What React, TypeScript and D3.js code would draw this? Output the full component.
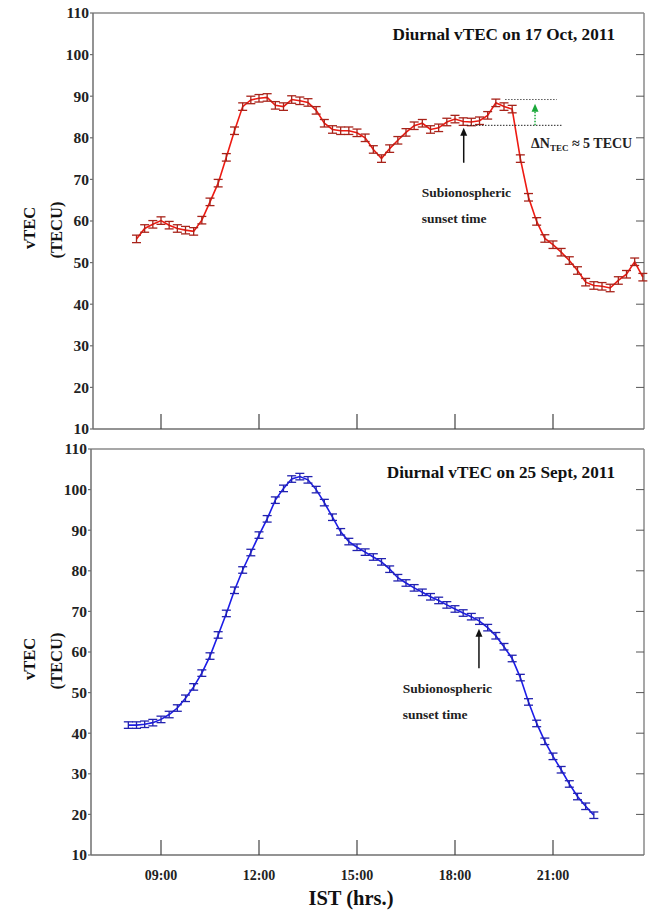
import React from "react";
import * as d3 from "d3";

// ---------- data ----------
const redTimes = ["08:15","08:30","08:45","09:00","09:15","09:30","09:45","10:00","10:15","10:30","10:45","11:00","11:15","11:30","11:45","12:00","12:15","12:30","12:45","13:00","13:15","13:30","13:45","14:00","14:15","14:30","14:45","15:00","15:15","15:30","15:45","16:00","16:15","16:30","16:45","17:00","17:15","17:30","17:45","18:00","18:15","18:30","18:45","19:00","19:15","19:30","19:45","20:00","20:15","20:30","20:45","21:00","21:15","21:30","21:45","22:00","22:15","22:30","22:45","23:00","23:15","23:30","23:45"];
const redValues = [55.7,58.2,59.2,60.1,59.0,58.2,57.8,57.5,60.2,64.6,69.1,75.3,81.7,87.5,89.1,89.5,89.7,87.8,87.5,89.2,88.9,88.5,86.6,83.5,82.0,81.7,81.7,81.2,80.0,77.2,75.0,77.4,79.4,81.3,82.9,83.5,82.0,82.4,83.8,84.5,83.9,83.8,84.1,85.4,88.4,87.5,86.9,75.0,65.7,59.9,55.8,54.3,52.5,50.5,48.1,45.3,44.5,44.3,43.9,45.7,47.2,50.2,46.5];
const redError = 0.9;

const blueTimes = ["08:00","08:15","08:30","08:45","09:00","09:15","09:30","09:45","10:00","10:15","10:30","10:45","11:00","11:15","11:30","11:45","12:00","12:15","12:30","12:45","13:00","13:15","13:30","13:45","14:00","14:15","14:30","14:45","15:00","15:15","15:30","15:45","16:00","16:15","16:30","16:45","17:00","17:15","17:30","17:45","18:00","18:15","18:30","18:45","19:00","19:15","19:30","19:45","20:00","20:15","20:30","20:45","21:00","21:15","21:30","21:45","22:00","22:15"];
const blueValues = [42.0,42.0,42.2,42.6,43.4,44.6,46.2,48.6,51.4,54.8,59.0,64.2,69.5,75.2,80.2,84.5,88.8,92.8,97.4,100.3,102.6,103.2,102.4,100.0,96.8,93.2,89.6,87.2,85.8,84.6,83.4,82.2,80.4,78.3,77.0,75.8,74.7,73.6,72.7,71.6,70.6,69.6,68.7,67.6,66.0,64.0,61.3,58.4,53.7,47.7,42.4,38.0,34.3,31.0,27.5,24.4,22.0,19.8];
const blueError = 0.8;

const yTicks = [10, 20, 30, 40, 50, 60, 70, 80, 90, 100, 110];
const xTickLabels = ["09:00", "12:00", "15:00", "18:00", "21:00"];

const toHours = (s: string) => {
  const [h, m] = s.split(":").map(Number);
  return h + m / 60;
};

const FONT = "'Liberation Serif', 'Times New Roman', serif";

// x scale shared by both panels
const x = d3.scaleLinear().domain([9, 21]).range([161, 553]);

type PanelProps = {
  left: number;
  right: number;
  top: number;
  bottom: number;
  times: string[];
  values: number[];
  err: number;
  lineColor: string;
  errColor: string;
  title: string;
  titleBaseline: number;
  showXLabels: boolean;
  labelY: number;
  children?: (y: d3.ScaleLinear<number, number>) => React.ReactNode;
};

function Panel(p: PanelProps) {
  const y = d3.scaleLinear().domain([10, 110]).range([p.bottom, p.top]);
  const pts = p.times.map((t, i) => ({ t: toHours(t), v: p.values[i] }));
  const line = d3
    .line<{ t: number; v: number }>()
    .x((d) => x(d.t))
    .y((d) => y(d.v));
  const axisColor = "#6f6f6f";
  return (
    <g>
      {/* frame */}
      <line x1={p.left} x2={p.right} y1={p.top} y2={p.top} stroke="#8a8a8a" strokeWidth={1.5} />
      <line x1={p.right} x2={p.right} y1={p.top} y2={p.bottom} stroke="#8a8a8a" strokeWidth={1.5} />
      <line x1={p.left} x2={p.left} y1={p.top} y2={p.bottom} stroke={axisColor} strokeWidth={1.5} />
      <line x1={p.left} x2={p.right} y1={p.bottom} y2={p.bottom} stroke={axisColor} strokeWidth={1.5} />
      {/* y ticks */}
      {yTicks.map((v) => (
        <g key={v}>
          <line x1={p.left - 3} x2={p.left} y1={y(v)} y2={y(v)} stroke={axisColor} strokeWidth={1.2} />
          {v > 10 && v < 110 && (
            <line x1={p.right - 8} x2={p.right} y1={y(v)} y2={y(v)} stroke="#555" strokeWidth={1} />
          )}
          <text
            x={p.left - 4}
            y={y(v)}
            dy="0.35em"
            textAnchor="end"
            fontFamily={FONT}
            fontWeight="bold"
            fontSize={15.5}
            fill="#222"
          >
            {v}
          </text>
        </g>
      ))}
      {/* x ticks */}
      {xTickLabels.map((l) => (
        <g key={l}>
          <line x1={x(toHours(l))} x2={x(toHours(l))} y1={p.bottom} y2={p.bottom - 15} stroke="#444" strokeWidth={1.2} />
          {p.showXLabels && (
            <text
              x={x(toHours(l))}
              y={p.bottom + 25}
              textAnchor="middle"
              fontFamily={FONT}
              fontWeight="bold"
              fontSize={14}
              fill="#222"
            >
              {l}
            </text>
          )}
        </g>
      ))}
      {/* y label */}
      <text
        transform={`translate(29,${p.labelY}) rotate(-90)`}
        dy="0.35em"
        textAnchor="middle"
        fontFamily={FONT}
        fontWeight="bold"
        fontSize={16.5}
        fill="#111"
      >
        vTEC
      </text>
      <text
        transform={`translate(56,${p.labelY + 2}) rotate(-90)`}
        dy="0.35em"
        textAnchor="middle"
        fontFamily={FONT}
        fontWeight="bold"
        fontSize={16.5}
        fill="#111"
      >
        (TECU)
      </text>
      {/* title */}
      <text
        x={615}
        y={p.titleBaseline}
        textAnchor="end"
        fontFamily={FONT}
        fontWeight="bold"
        fontSize={17.2}
        fill="#111"
      >
        {p.title}
      </text>
      {/* line */}
      <path d={line(pts) || ""} fill="none" stroke={p.lineColor} strokeWidth={1.6} />
      {/* error bars */}
      {pts.map((d, i) => {
        const cx = x(d.t);
        const y1 = y(d.v - p.err);
        const y2 = y(d.v + p.err);
        return (
          <g key={i} stroke={p.errColor} strokeWidth={1.3}>
            <line x1={cx} x2={cx} y1={y1} y2={y2} />
            <line x1={cx - 4.5} x2={cx + 4.5} y1={y1} y2={y1} />
            <line x1={cx - 4.5} x2={cx + 4.5} y1={y2} y2={y2} />
          </g>
        );
      })}
      {p.children && p.children(y)}
    </g>
  );
}

function Arrow({ x1, y1, x2, y2, color, dash }: { x1: number; y1: number; x2: number; y2: number; color: string; dash?: string }) {
  // vertical arrow pointing to (x2,y2)
  const dir = y2 < y1 ? 1 : -1;
  const head = 8;
  return (
    <g>
      <line x1={x1} y1={y1} x2={x2} y2={y2 + dir * head * 0.8} stroke={color} strokeWidth={1.5} strokeDasharray={dash} />
      <path
        d={`M${x2},${y2} L${x2 - 3.5},${y2 + dir * head} L${x2 + 3.5},${y2 + dir * head} Z`}
        fill={color}
      />
    </g>
  );
}

const annTextProps = {
  fontFamily: FONT,
  fontWeight: "bold" as const,
  fontSize: 13.5,
  fill: "#222",
};

export default function App() {
  return (
    <svg
      width={649}
      height={916}
      style={{ position: "absolute", left: 0, top: 0, background: "#fff" }}
    >
      <Panel
        left={93}
        right={644}
        top={13}
        bottom={429}
        times={redTimes}
        values={redValues}
        err={redError}
        lineColor="#ee1a12"
        errColor="#a8231a"
        title="Diurnal vTEC on 17 Oct, 2011"
        titleBaseline={40}
        showXLabels={false}
        labelY={228}
      >
        {(y) => (
          <g>
            <line x1={x(toHours("19:32"))} x2={x(toHours("21:07"))} y1={y(89.2)} y2={y(89.2)} stroke="#555" strokeWidth={1} strokeDasharray="1.5,1.5" />
            <line x1={x(toHours("18:22"))} x2={x(toHours("21:18"))} y1={y(83.0)} y2={y(83.0)} stroke="#222" strokeWidth={1} strokeDasharray="1.5,1.5" />
            <Arrow x1={x(toHours("20:27"))} y1={y(83.0)} x2={x(toHours("20:27"))} y2={y(88.2)} color="#1aa83a" dash="1.5,1.5" />
            <Arrow x1={x(toHours("18:16"))} y1={y(74)} x2={x(toHours("18:16"))} y2={y(82.4)} color="#111" />
            <text x={421.7} y={197} {...annTextProps}>Subionospheric</text>
            <text x={421.7} y={223} {...annTextProps}>sunset time</text>
            <text x={531} y={148} fontFamily={FONT} fontWeight="bold" fontSize={14} fill="#222">
              ΔN
              <tspan fontSize={9} dy={3}>TEC</tspan>
              <tspan dy={-3}> ≈ 5 TECU</tspan>
            </text>
          </g>
        )}
      </Panel>
      <Panel
        left={91}
        right={644}
        top={449}
        bottom={855}
        times={blueTimes}
        values={blueValues}
        err={blueError}
        lineColor="#1c1ce8"
        errColor="#2222b0"
        title="Diurnal vTEC on 25 Sept, 2011"
        titleBaseline={478}
        showXLabels={true}
        labelY={659}
      >
        {(y) => (
          <g>
            <Arrow x1={x(toHours("18:44"))} y1={y(56)} x2={x(toHours("18:44"))} y2={y(65.7)} color="#111" />
            <text x={402.7} y={693} {...annTextProps}>Subionospheric</text>
            <text x={402.7} y={719} {...annTextProps}>sunset time</text>
          </g>
        )}
      </Panel>
      <text
        x={351}
        y={905}
        textAnchor="middle"
        fontFamily={FONT}
        fontWeight="bold"
        fontSize={20.5}
        fill="#111"
      >
        IST (hrs.)
      </text>
    </svg>
  );
}
